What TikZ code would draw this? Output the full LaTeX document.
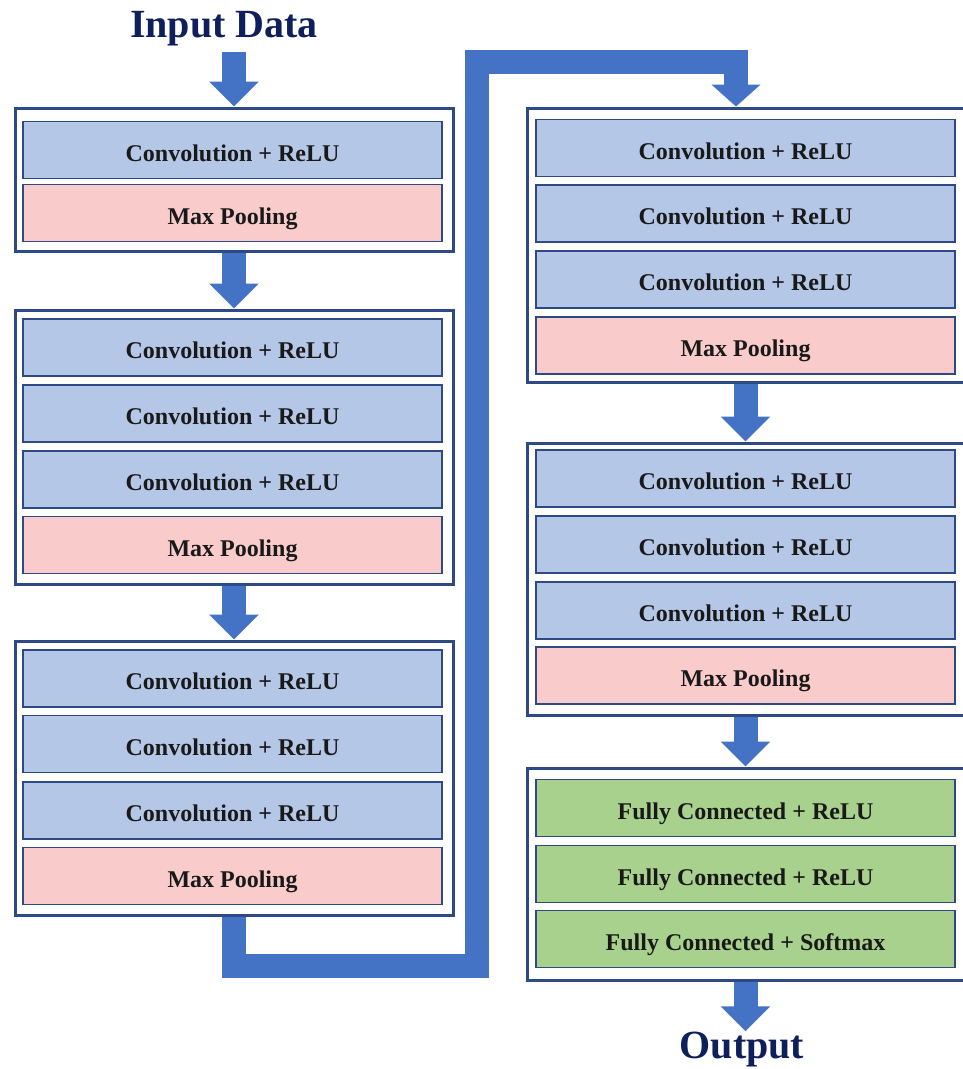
\documentclass[tikz,border=0pt]{standalone}
\usepackage{fontspec}
\setmainfont{Liberation Serif}
\usetikzlibrary{arrows.meta}
\definecolor{arrowblue}{HTML}{4472C4}
\definecolor{boxborder}{HTML}{2E4A86}
\definecolor{convfill}{HTML}{B4C7E7}
\definecolor{poolfill}{HTML}{FACBCB}
\definecolor{fcfill}{HTML}{A9D18E}
\definecolor{titlecol}{HTML}{0E1F5B}
\begin{document}
\begin{tikzpicture}[x=1pt,y=-1pt,
  rowbox/.style={draw=boxborder, line width=1.8pt, minimum width=419pt, minimum height=57pt,
    inner sep=0pt, text height=22pt, text depth=0pt, font=\fontsize{24}{28}\selectfont\bfseries, text=black!90},
  convrow/.style={rowbox, fill=convfill},
  poolrow/.style={rowbox, fill=poolfill},
  fcrow/.style={rowbox, fill=fcfill},
  outerbox/.style={draw=boxborder, line width=3pt, fill=white, minimum width=438pt, inner sep=0pt},
  bigarrow/.style={draw=arrowblue, line width=24pt, -{Triangle[width=48pt,length=25pt]}, arrowblue},
  conn/.style={draw=arrowblue, line width=24pt, line join=miter, -{Triangle[width=48pt,length=22pt]}, arrowblue},
  titletext/.style={font=\fontsize{40}{44}\selectfont\bfseries, text=titlecol, inner sep=0pt}
]
\useasboundingbox[fill=white] (0,0) rectangle (962,1069);

% titles
\node[titletext, anchor=base] (title) at (224,37) {Input Data};
\node[titletext, anchor=base] (out) at (742,1058) {Output};

% left column outer boxes
\node[outerbox, minimum height=143pt] (b1) at (234,179.5) {};
\node[outerbox, minimum height=274pt] (b2) at (234,447) {};
\node[outerbox, minimum height=274pt] (b3) at (234,778) {};
% right column outer boxes
\node[outerbox, minimum width=437pt, minimum height=274pt] (ba) at (745.5,245) {};
\node[outerbox, minimum width=437pt, minimum height=272pt] (bb) at (745.5,579) {};
\node[outerbox, minimum width=437pt, minimum height=212pt] (bc) at (745.5,874) {};

% left rows
\node[convrow] (l1a) at (232.5,150) {Convolution + ReLU};
\node[poolrow] (l1b) at (232.5,213) {Max Pooling};

\node[convrow] (l2a) at (232.5,347.5) {Convolution + ReLU};
\node[convrow] (l2b) at (232.5,413.5) {Convolution + ReLU};
\node[convrow] (l2c) at (232.5,479.5) {Convolution + ReLU};
\node[poolrow] (l2d) at (232.5,545) {Max Pooling};

\node[convrow] (l3a) at (232.5,678.5) {Convolution + ReLU};
\node[convrow] (l3b) at (232.5,744) {Convolution + ReLU};
\node[convrow] (l3c) at (232.5,810.5) {Convolution + ReLU};
\node[poolrow] (l3d) at (232.5,876) {Max Pooling};

% right rows
\node[convrow] (r1a) at (745.5,148) {Convolution + ReLU};
\node[convrow] (r1b) at (745.5,213.5) {Convolution + ReLU};
\node[convrow] (r1c) at (745.5,279.5) {Convolution + ReLU};
\node[poolrow] (r1d) at (745.5,345.5) {Max Pooling};

\node[convrow] (r2a) at (745.5,478.5) {Convolution + ReLU};
\node[convrow] (r2b) at (745.5,544.5) {Convolution + ReLU};
\node[convrow] (r2c) at (745.5,610.5) {Convolution + ReLU};
\node[poolrow] (r2d) at (745.5,675.5) {Max Pooling};

\node[fcrow] (r3a) at (745.5,808) {Fully Connected + ReLU};
\node[fcrow] (r3b) at (745.5,874) {Fully Connected + ReLU};
\node[fcrow] (r3c) at (745.5,939) {Fully Connected + Softmax};

% arrows
\coordinate (inStart) at (234,52);
\draw[bigarrow] (inStart) -- (b1.north);
\draw[bigarrow] (b1.south) -- (b2.north);
\draw[bigarrow] (b2.south) -- (b3.north);
\draw[bigarrow] (ba.south) -- (bb.north);
\draw[bigarrow] (bb.south) -- (bc.north);
\draw[bigarrow] (bc.south) -- (bc.south |- out.north);

% long connector
\coordinate (cEnd) at ([xshift=-9.5pt]ba.north);
\draw[conn] (b3.south) |- (477,966) -- (477,62) -| (cEnd);
\end{tikzpicture}
\end{document}
